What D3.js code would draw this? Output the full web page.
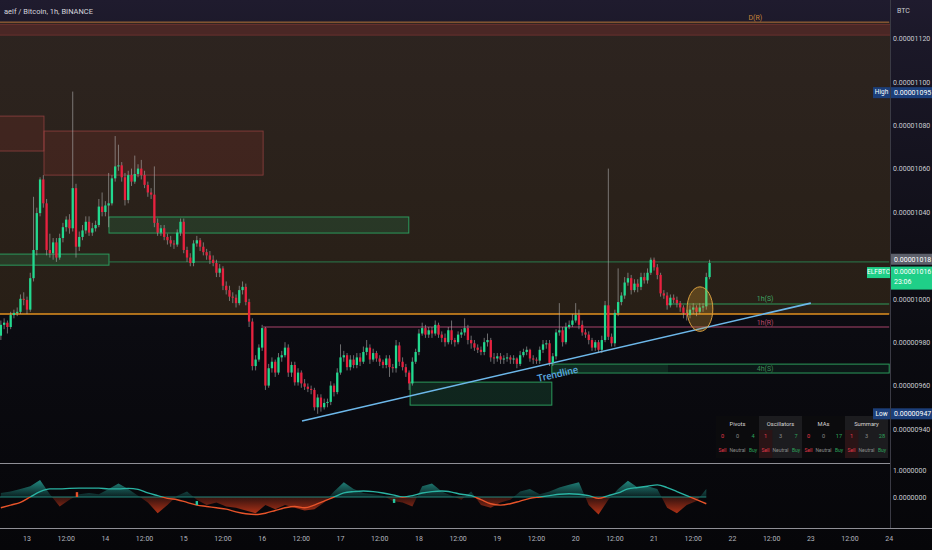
<!DOCTYPE html>
<html><head><meta charset="utf-8">
<script src="https://cdn.jsdelivr.net/npm/d3@7"></script>
<style>html,body{margin:0;padding:0;background:#08080b;overflow:hidden}svg{display:block}</style>
</head><body><svg id="c" width="932" height="550"></svg>
<script>
// ---------------- DATA (prices in 1e-8 BTC) ----------------
const firstCandle = Date.UTC(2021,0,12,16);   // first hourly candle
const day13 = Date.UTC(2021,0,13);
const firstOpen = 983;
const closes = [
988,989,987,992.5,993.5,994,1000,999.5,995,1009.5,
1022.5,1039.5,1055,1044,1022.5,1021,1026,1019,1028,1033,
1036.5,1032.5,1051,1024,1028.5,1031.5,1035.5,1030.5,1032.5,1034,
1042.5,1040,1043,1044,1055.5,1061,1061.5,1056,1045.5,1057,
1054,1057.5,1060,1057,1052.5,1049,1048,1035,1030.5,1032.5,
1028.5,1027,1025.5,1025,1030.5,1035.5,1022.5,1019,1016.5,1025.5,
1027,1024,1021.5,1020,1018,1016.5,1012,1014,1006,1004,
1001,1000.5,998,1004,1005.5,998.5,989.5,969,972,977.5,
986.5,960,968,971,966,973,974,977.5,966,969.5,
961.5,966,961,959.5,958.5,958,950,954.5,950,952,
952.5,960,957,966,973,974,968.5,972,969.5,973,
971,975.5,977.5,972,975,972.5,971,969.5,972.5,968.5,
968,978.5,971,968.5,966,961,971,975.5,984,986.5,
983.5,985.5,984,988,983.5,982,980,985.5,981,980,
983.5,984.5,986.5,981,979.5,977.5,976.5,975.5,980,981,
973,972.5,973.5,972,972.5,973,972,972.5,970,974,
975.5,976.5,972.5,972,971.5,976.5,979,979.5,970.5,973.5,
984.5,985.5,980,987,988,990,992.5,988,984.5,983.5,
981,977.5,980,976.5,981,997,982.5,979.5,993.5,998.5,
1001.5,1007.5,1009.5,1004,1007,1005.5,1010,1008.5,1012,1018,
1014.5,1011,1002.5,1001.5,997,1000.5,999.5,998,996,993.5,
992.5,995,996,994,996,996.5,1010,1016.5];
const highs = [
990,991,990,994,995,996,1002,1003,1001,1012,
1047,1042,1056,1057,1046,1030,1028,1028,1030,1035,
1038,1039,1095.5,1053,1031,1034,1038,1038,1035,1036,
1046,1049,1045,1058,1057,1075,1071,1063,1058,1059,
1060,1066,1062,1064,1059,1054,1051,1061,1037,1034,
1034,1030,1029,1027,1032,1037,1037,1024,1021,1027,
1029,1028,1026,1023,1022,1020,1018,1016,1015,1008,
1006,1003,1002,1006,1008,1007,1000,991,974,979,
988,987,970,973,972,975,976,980,979,971,
971,968,967,963,961,960,959,956,956,954,
954,962,961,968,979,976,975,974,974,975,
975,978,981,979,977,976,974,972,974,974,
970,981,980,973,970,967,973,977,986,989,
988,987,987,990,989,985,984,987,990,982,
985,986,991,988,983,981,979,978,982,984,
982,975,975,975,974,975,974,974,973,976,
977,978,977,974,973,978,981,981,981,975,
986,998,987,989,990,993,998,995,990,986,
985,982,981,981,983,999,1060,984,995,1014,
1003,1010,1012,1011,1009,1009,1012,1012,1014,1019,
1019,1016,1012,1004,1003,1002,1002,1001,999,997,
995,997,998,997,998,998,1012,1018];
const lows = [
981,986,984,986,991,992,993,997,993,994,
1008,1020,1038,1042,1020,1019,1018,1017,1018,1026,
1031,1030,1031,1019,1022,1027,1030,1029,1029,1031,
1033,1038,1038,1033,1043,1054,1059,1054,1043,1044,
1052,1053,1056,1055,1051,1047,1046,1033,1029,1029,
1027,1025,1024,1023,1024,1029,1021,1017,1015,1015,
1024,1022,1020,1018,1016,1015,1010,1010,1004,1002,
999,998,996,997,1002,997,987,967,967,971,
976,958,959,966,964,965,971,973,964,964,
960,960,959,958,957,956,948.5,947,948,949,
950,951,955,956,965,971,967,967,968,968,
969,970,974,970,971,971,969,968,968,964,
966,966,969,967,964,958,960,970,974,983,
982,982,982,983,982,980,978,979,979,978,
979,982,983,979,977,976,975,974,974,978,
971,970,971,970,970,971,970,970,968,969,
973,974,971,970,970,970,975,977,969,969,
972,983,978,979,986,987,989,986,983,982,
979,976,976,975,975,980,981,978,978,992,
997,1000,1006,1002,1003,1003,1004,1007,1007,1011,
1013,1009,1001,1000,995,996,998,996,994,991,
990,991,993,992,993,994,995,1009];

// oscillator panel (one value every 3 hours from the first candle)
const oscStep = 3;
const oscValues = [0.15,0.2,0.3,0.4,0.63,0.1,-0.35,-0.1,0.1,0.15,
0.1,0.3,0.5,0.3,0.05,-0.2,-0.6,-0.3,0.05,0.2,
-0.1,-0.3,-0.2,-0.35,-0.4,-0.5,-0.6,-0.3,-0.45,-0.3,
-0.4,-0.5,-0.45,-0.2,0.2,0.55,0.3,0.15,0.1,0.05,
-0.15,-0.2,-0.35,0.4,0.5,0.2,0.05,-0.1,0.2,-0.3,
-0.4,-0.2,-0.1,0.2,0.3,0.1,0.2,0.35,0.45,0.55,
-0.3,-0.65,-0.1,0.3,0.6,0.35,0.4,0.3,-0.4,-0.6,
-0.3,-0.15,0.3];
const signalValues = [-0.4,-0.3,-0.2,0,0.2,0.3,0.3,0.32,0.33,0.33,
0.33,0.3,0.3,0.32,0.28,0.15,0.05,-0.05,-0.1,-0.2,
-0.3,-0.35,-0.4,-0.45,-0.55,-0.62,-0.65,-0.6,-0.5,-0.4,
-0.35,-0.4,-0.3,-0.15,0,0.15,0.2,0.22,0.2,0.15,
0.08,0,0.05,0.15,0.2,0.22,0.18,0.1,0.05,-0.1,
-0.25,-0.3,-0.25,-0.15,-0.05,0,0.05,0.1,0.12,0.1,
0.05,-0.05,0.05,0.15,0.3,0.35,0.4,0.45,0.35,0.2,
0.05,-0.1,-0.25];
const oscMarks = [{h:15.3,hi:0.18,lo:0,c:'#e8502a'},{h:52,hi:-0.15,lo:-0.3,c:'#26c6a0'},{h:112.4,hi:-0.07,lo:-0.22,c:'#26c6a0'}];

// annotations (hours from day 13 00:00, prices)
const redZones = [{from:-9,to:5.2,top:1084.2,bottom:1068.1},{from:5.2,to:72.3,top:1077.3,bottom:1057}];
const greenZones = [
 {from:-9,to:25.1,top:1020.6,bottom:1015.5,a:0.22},
 {from:25.1,to:116.9,top:1037.7,bottom:1030.3,a:0.2},
 {from:117.3,to:160.7,top:961.6,bottom:951,a:0.2},
 {from:160.7,to:264,top:969.9,bottom:965.8,a:0.1}];
const zoneHighlight = {from:160.7,to:196.3,top:969.9,bottom:965.8};
const levelLines = [
 {from:-9,to:264,price:1127.5,color:'#b5743a'},
 {from:-9,to:264,price:993,color:'#e0901f'},
 {from:72.3,to:264,price:987,color:'#a8456a'},
 {from:196.3,to:264,price:997.6,color:'#2f9a5a'},
 {from:25.1,to:264,price:1017,color:'#2a7a4c'}];
const dailyBand = {top:1126.5,bottom:1121.5};
const levelLabels = [
 {h:223,price:1129.2,text:'D(R)',color:'#c8843a'},
 {h:226,price:1000,text:'1h(S)',color:'#3fa464'},
 {h:226,price:989,text:'1h(R)',color:'#b84868'},
 {h:226,price:967.8,text:'4h(S)',color:'#3d8a55'}];
const trend = {from:84.2,fromPrice:943.7,to:240,toPrice:998};
const marker = {from:202.1,to:210,top:1005.5,bottom:985};
const brownZone = {top:1127.5,bottom:993};

// axes
const priceTicks = [940,960,980,1000,1040,1060,1080,1100,1120];
const oscTicks = [0,1];
const highPrice = 1095, lowPrice = 947, lastHigh = 1018, lastPrice = 1016, countdown = '23:06';

// table
const groups = ['Pivots','Oscillators','MAs','Summary'];
const sellCounts = [0,1,0,1];
const neutralCounts = [0,3,0,3];
const buyCounts = [4,7,17,28];

// ---------------- DRAW ----------------
const W=932,H=550, HR=3600e3;
const FONT='Roboto, "Noto Sans", sans-serif';
const svg=d3.select('#c').style('font-family',FONT);
const defs=svg.append('defs');
function grad(id,stops,y1,y2){const g=defs.append('linearGradient').attr('id',id).attr('gradientUnits','userSpaceOnUse').attr('x1',0).attr('x2',0).attr('y1',y1).attr('y2',y2);stops.forEach(s=>g.append('stop').attr('offset',s[0]).attr('stop-color',s[1]).attr('stop-opacity',s[2]==null?1:s[2]));}
grad('bg',[[0,'#1f1b2e'],[0.08,'#1b1828'],[0.6,'#0b0b11'],[1,'#060609']],0,550);
grad('brown',[[0,'#2d2420'],[1,'#281f16']],22,314);
grad('teal',[[0,'#26a69a',0.9],[1,'#26a69a',0.15]],478,497);
grad('red',[[0,'#b8341a',0.25],[1,'#d03a18',0.95]],497,516);

svg.append('rect').attr('width',W).attr('height',H).attr('fill','url(#bg)');

const x=d3.scaleUtc().domain([new Date(day13),new Date(Date.UTC(2021,0,24))]).range([27,889.2]);
const T=h=>new Date(day13+h*HR);
const y=d3.scaleLinear().domain([940,1120]).range([429,38.4]);
const yo=d3.scaleLinear().domain([0,1]).range([497,470]);

defs.append('clipPath').attr('id','main').append('rect').attr('x',0).attr('y',0).attr('width',890).attr('height',462);
const g=svg.append('g').attr('clip-path','url(#main)');

g.append('rect').attr('x',0).attr('width',890).attr('y',y(brownZone.top)).attr('height',y(brownZone.bottom)-y(brownZone.top)).attr('fill','url(#brown)');
g.append('rect').attr('x',-2).attr('width',894).attr('y',y(dailyBand.top)).attr('height',y(dailyBand.bottom)-y(dailyBand.top))
 .attr('fill','rgba(110,45,45,0.45)').attr('stroke','rgba(150,60,60,0.6)').attr('stroke-width',0.8);
g.selectAll('.rz').data(redZones).join('rect').attr('x',d=>x(T(d.from))).attr('width',d=>x(T(d.to))-x(T(d.from)))
 .attr('y',d=>y(d.top)).attr('height',d=>y(d.bottom)-y(d.top)).attr('fill','rgba(120,45,40,0.28)').attr('stroke','rgba(160,70,70,0.75)').attr('stroke-width',0.9);
g.selectAll('.gz').data(greenZones).join('rect').attr('x',d=>x(T(d.from))).attr('width',d=>x(T(d.to))-x(T(d.from)))
 .attr('y',d=>y(d.top)).attr('height',d=>y(d.bottom)-y(d.top)).attr('fill',d=>`rgba(40,150,90,${d.a})`).attr('stroke','#2b9a5c').attr('stroke-width',1);
g.append('rect').attr('x',x(T(zoneHighlight.from))).attr('width',x(T(zoneHighlight.to))-x(T(zoneHighlight.from)))
 .attr('y',y(zoneHighlight.top)+0.5).attr('height',y(zoneHighlight.bottom)-y(zoneHighlight.top)-1).attr('fill','rgba(40,150,90,0.16)');
g.selectAll('.lv').data(levelLines).join('line').attr('x1',d=>x(T(d.from))).attr('x2',d=>x(T(d.to)))
 .attr('y1',d=>y(d.price)).attr('y2',d=>y(d.price)).attr('stroke',d=>d.color).attr('stroke-width',(d,i)=>i==1?1.6:1);
g.selectAll('.ll').data(levelLabels).join('text').attr('x',d=>x(T(d.h))).attr('y',d=>y(d.price)).attr('text-anchor','middle')
 .attr('dominant-baseline','middle').attr('font-size',7).attr('fill',d=>d.color).text(d=>d.text);

// trendline
const tx1=x(T(trend.from)),ty1=y(trend.fromPrice),tx2=x(T(trend.to)),ty2=y(trend.toPrice);
g.append('line').attr('x1',tx1).attr('y1',ty1).attr('x2',tx2).attr('y2',ty2).attr('stroke','#6db8ea').attr('stroke-width',1.6);
const ang=Math.atan2(ty2-ty1,tx2-tx1)*180/Math.PI;
const tmx=x(T(162.5)), tmy=ty1+(tmx-tx1)*(ty2-ty1)/(tx2-tx1)+13;
g.append('text').attr('transform',`translate(${tmx},${tmy}) rotate(${ang})`).attr('text-anchor','middle').attr('dominant-baseline','middle')
 .attr('font-size',10).attr('font-weight',500).attr('fill','#5aa6de').text('Trendline');

// candles
const candles=closes.map((c,i)=>({t:new Date(firstCandle+i*HR),o:i?closes[i-1]:firstOpen,c,h:highs[i],l:lows[i]}));
const up='#22d98f', dn='#e8213f';
g.selectAll('.wk').data(candles).join('line').attr('x1',d=>x(d.t)).attr('x2',d=>x(d.t)).attr('y1',d=>y(d.h)).attr('y2',d=>y(d.l))
 .attr('stroke','rgba(175,175,175,0.75)').attr('stroke-width',0.8);
g.selectAll('.bd').data(candles).join('rect').attr('x',d=>x(d.t)-1.15).attr('width',2.3)
 .attr('y',d=>y(Math.max(d.o,d.c))).attr('height',d=>Math.max(1,Math.abs(y(d.o)-y(d.c)))).attr('fill',d=>d.c>=d.o?up:dn);

const ex1=x(T(marker.from)),ex2=x(T(marker.to)),ey1=y(marker.top),ey2=y(marker.bottom);
g.append('ellipse').attr('cx',(ex1+ex2)/2).attr('cy',(ey1+ey2)/2).attr('rx',(ex2-ex1)/2).attr('ry',(ey2-ey1)/2)
 .attr('fill','rgba(225,160,50,0.28)').attr('stroke','#d9a040').attr('stroke-width',1);

// table
const gx=d3.scaleBand().domain(groups).range([716,888]);
const tb=svg.append('g');
tb.append('rect').attr('x',716).attr('y',416).attr('width',172).attr('height',42).attr('fill','#0b0b0d');
groups.forEach((name,i)=>{
  const x0=gx(name),w=gx.bandwidth();
  if(i%2==1){tb.append('rect').attr('x',x0).attr('y',416).attr('width',w).attr('height',42).attr('fill','#1c1c1f');
    tb.append('rect').attr('x',x0).attr('y',430).attr('width',w/3-1).attr('height',28).attr('fill','#2a1416');}
  tb.append('text').attr('x',x0+w/2).attr('y',424).attr('text-anchor','middle').attr('dominant-baseline','middle').attr('font-size',5.8).attr('fill','#d6d6d6').text(name);
  const cols=[x0+6.5,x0+w/2,x0+w-6];
  const vals=[sellCounts[i],neutralCounts[i],buyCounts[i]], labs=['Sell','Neutral','Buy'], cols2=['#e2384a','#8a8a8a','#2ea45c'];
  vals.forEach((v,j)=>{
    tb.append('text').attr('x',cols[j]).attr('y',436.5).attr('text-anchor','middle').attr('dominant-baseline','middle').attr('font-size',5.6).attr('fill',cols2[j]).text(v);
    tb.append('text').attr('x',cols[j]).attr('y',451).attr('text-anchor','middle').attr('dominant-baseline','middle').attr('font-size',5).attr('fill',cols2[j]).text(labs[j]);
  });
});

// right axis
svg.append('line').attr('x1',890.5).attr('x2',890.5).attr('y1',0).attr('y2',528).attr('stroke','#3a3a44').attr('stroke-width',1);
svg.append('text').attr('x',897).attr('y',11).attr('dominant-baseline','middle').attr('font-size',7).attr('fill','#c9cbd1').text('BTC');
const fmt=v=>(v*1e-8).toFixed(8);
const ax=svg.append('g').attr('transform','translate(890,0)').call(d3.axisRight(y).tickValues(priceTicks).tickFormat(fmt).tickSize(0).tickPadding(3));
ax.select('.domain').remove();
ax.selectAll('text').attr('font-size',7).attr('fill','#c9cbd1').attr('font-family',FONT);

function badge(yc,h,fill,lines,color){
  svg.append('rect').attr('x',891).attr('y',yc-h/2).attr('width',41).attr('height',h).attr('fill',fill);
  lines.forEach((t,i)=>svg.append('text').attr('x',894).attr('y',yc-h/2+6+i*10).attr('dominant-baseline','middle').attr('font-size',7).attr('fill',color).text(t));
}
function tag(yc,w,fill,text){
  svg.append('rect').attr('x',890-w).attr('y',yc-5.5).attr('width',w).attr('height',11).attr('fill',fill);
  svg.append('text').attr('x',890-w/2).attr('y',yc).attr('text-anchor','middle').attr('dominant-baseline','middle').attr('font-size',6.5).attr('fill','#ffffff').text(text);
}
badge(y(highPrice),11,'#1c3f7a',[fmt(highPrice)],'#ffffff'); tag(y(highPrice),17,'#1c3f7a','High');
badge(y(lowPrice),11,'#1c3f7a',[fmt(lowPrice)],'#ffffff'); tag(y(lowPrice),17,'#1c3f7a','Low');
badge(y(lastHigh)-0.5,11,'#5d606b',[fmt(lastHigh)],'#ffffff');
badge(y(lastPrice)+14,23,'#1fcf88',[fmt(lastPrice),countdown],'#ffffff');
tag(y(lastPrice)+8.5,23,'#1fcf88','ELFBTC');

svg.append('text').attr('x',4).attr('y',12.5).attr('dominant-baseline','middle').attr('font-size',7.5).attr('fill','#d6d6dc').text('aelf / Bitcoin, 1h, BINANCE');

// oscillator panel
svg.append('line').attr('x1',0).attr('x2',890).attr('y1',463.5).attr('y2',463.5).attr('stroke','#8f8f96').attr('stroke-width',1);
svg.append('line').attr('x1',0).attr('x2',932).attr('y1',528.5).attr('y2',528.5).attr('stroke','#8f8f96').attr('stroke-width',1);
const oscData=oscValues.map((v,k)=>({t:new Date(firstCandle+k*oscStep*HR),v,s:signalValues[k]}));
defs.append('clipPath').attr('id','above').append('rect').attr('x',0).attr('y',464).attr('width',890).attr('height',yo(0)-464);
defs.append('clipPath').attr('id','below').append('rect').attr('x',0).attr('y',yo(0)).attr('width',890).attr('height',528-yo(0));
const area=d3.area().x(d=>x(d.t)).y0(yo(0)).y1(d=>yo(d.v));
const sline=d3.line().x(d=>x(d.t)).y(d=>yo(d.s)).curve(d3.curveMonotoneX);
svg.append('path').attr('d',area(oscData)).attr('fill','url(#teal)').attr('clip-path','url(#above)');
svg.append('path').attr('d',area(oscData)).attr('fill','url(#red)').attr('clip-path','url(#below)');
svg.append('line').attr('x1',0).attr('x2',x(oscData[oscData.length-1].t)).attr('y1',yo(0)).attr('y2',yo(0)).attr('stroke','#2aa79b').attr('stroke-width',0.8);
svg.append('path').attr('d',sline(oscData)).attr('fill','none').attr('stroke','#2ab3a3').attr('stroke-width',1.4).attr('clip-path','url(#above)');
svg.append('path').attr('d',sline(oscData)).attr('fill','none').attr('stroke','#e8542a').attr('stroke-width',1.4).attr('clip-path','url(#below)');
svg.selectAll('.om').data(oscMarks).join('rect').attr('x',d=>x(T(d.h))-1.2).attr('width',2.4).attr('y',d=>yo(d.hi)).attr('height',d=>yo(d.lo)-yo(d.hi)).attr('fill',d=>d.c);
const oax=svg.append('g').attr('transform','translate(890,0)').call(d3.axisRight(yo).tickValues(oscTicks).tickFormat(v=>v.toFixed(7)).tickSize(0).tickPadding(3));
oax.select('.domain').remove();
oax.selectAll('text').attr('font-size',7).attr('fill','#c9cbd1').attr('font-family',FONT);

const ticks=d3.utcHour.every(12).range(new Date(day13),new Date(Date.UTC(2021,0,24,1)));
svg.selectAll('.xt').data(ticks).join('text').attr('x',d=>x(d)).attr('y',539).attr('text-anchor','middle').attr('dominant-baseline','middle')
 .attr('font-size',7).attr('fill','#b2b5be').text(d=>d.getUTCHours()===0?d.getUTCDate():'12:00');
</script></body></html>
